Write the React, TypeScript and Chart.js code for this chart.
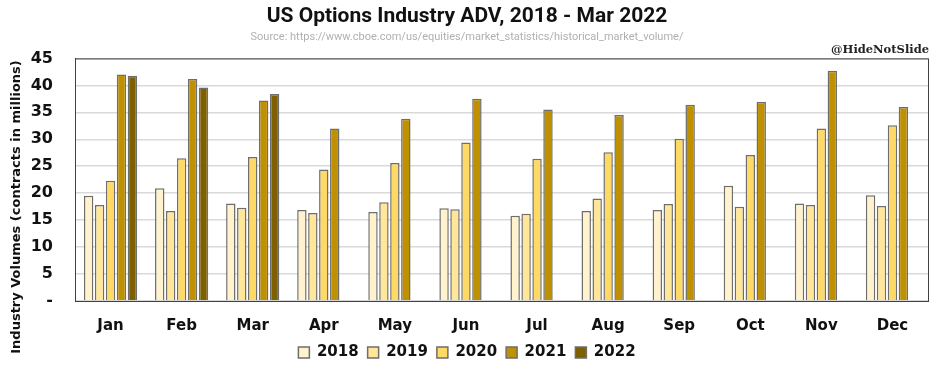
import React, { useEffect, useRef } from "react";
import { Chart, registerables } from "chart.js";

Chart.register(...registerables);

const months = ["Jan", "Feb", "Mar", "Apr", "May", "Jun", "Jul", "Aug", "Sep", "Oct", "Nov", "Dec"];
const years = ["2018", "2019", "2020", "2021", "2022"];
const v2018 = [19.5, 20.9, 18.1, 16.9, 16.5, 17.2, 15.8, 16.7, 16.9, 21.4, 18.1, 19.6];
const v2019 = [17.8, 16.7, 17.3, 16.3, 18.3, 17.0, 16.2, 19.0, 18.0, 17.5, 17.8, 17.6];
const v2020 = [22.3, 26.5, 26.7, 24.4, 25.6, 29.4, 26.4, 27.6, 30.1, 27.1, 32.0, 32.6];
const v2021 = [42.0, 41.2, 37.2, 32.0, 33.8, 37.5, 35.5, 34.5, 36.4, 36.9, 42.7, 36.0];
const v2022 = [41.8, 39.6, 38.4, null, null, null, null, null, null, null, null, null];
const yTicks = [0, 5, 10, 15, 20, 25, 30, 35, 40, 45];
const yTitle = "Industry Volumes (contracts in millions)";

const colors = ["#FFF2CC", "#FFE699", "#FFD966", "#BF9000", "#7F6000"];
const seriesValues = [v2018, v2019, v2020, v2021, v2022];

const framePlugin = {
  id: "frameAndMark",
  afterDraw(chart: any) {
    const { ctx, chartArea } = chart;
    ctx.save();
    ctx.strokeStyle = "#404040";
    ctx.lineWidth = 1;
    ctx.strokeRect(chartArea.left + 0.5, chartArea.top + 0.5, chartArea.right - chartArea.left, chartArea.bottom - chartArea.top);
    ctx.fillStyle = "#222";
    ctx.font = "bold 11.5px 'DejaVu Serif'";
    ctx.textAlign = "right";
    ctx.textBaseline = "bottom";
    ctx.fillText("@HideNotSlide", 929, chartArea.top - 3);
    // y-axis title, placed lower than the plot centre as in the reference
    ctx.translate(17, 207);
    ctx.rotate(-Math.PI / 2);
    ctx.fillStyle = "#111";
    ctx.font = "bold 13px 'DejaVu Sans'";
    ctx.textAlign = "center";
    ctx.textBaseline = "middle";
    ctx.fillText(yTitle, 0, 0);
    ctx.restore();
  },
};

export default function App() {
  const ref = useRef<HTMLCanvasElement>(null);
  useEffect(() => {
    const chart = new Chart(ref.current as HTMLCanvasElement, {
      type: "bar",
      data: {
        labels: months,
        datasets: years.map((y, i) => ({
          label: y,
          data: seriesValues[i],
          backgroundColor: colors[i],
          borderColor: "#6e6e6e",
          borderWidth: 1.5,
          categoryPercentage: 0.77,
          barPercentage: 0.86,
        })),
      },
      options: {
        animation: false,
        responsive: false,
        layout: { padding: { left: 6, right: 8, top: 0, bottom: 0 } },
        plugins: {
          title: {
            display: true,
            text: "US Options Industry ADV, 2018 - Mar 2022",
            color: "#111",
            font: { family: "Roboto", size: 21, weight: "bold" },
            padding: { top: 4, bottom: 1 },
          },
          subtitle: {
            display: true,
            text: "Source: https://www.cboe.com/us/equities/market_statistics/historical_market_volume/",
            color: "#b0b0b0",
            font: { family: "Roboto", size: 11 },
            padding: { top: 0, bottom: 15 },
          },
          legend: {
            position: "bottom",
            labels: {
              boxWidth: 11,
              boxHeight: 11,
              padding: 9,
              color: "#111",
              font: { family: "DejaVu Sans", size: 15, weight: "bold" },
            },
          },
          tooltip: { enabled: false },
        },
        scales: {
          x: {
            grid: { display: false },
            border: { display: true, color: "#404040" },
            afterFit: (axis: any) => {
              axis.height -= 7;
            },
            ticks: {
              color: "#111",
              font: { family: "DejaVu Sans", size: 15, weight: "bold" },
              padding: 8,
            },
          },
          y: {
            min: 0,
            max: 45,
            afterBuildTicks: (axis: any) => {
              axis.ticks = yTicks.map((v) => ({ value: v }));
            },
            afterFit: (axis: any) => {
              axis.width = 69;
            },
            grid: { color: "#d9d9d9", lineWidth: 1.5, drawTicks: false },
            border: { display: true, color: "#404040" },
            title: { display: false },
            ticks: {
              color: "#111",
              font: { family: "DejaVu Sans", size: 16, weight: "bold" },
              padding: 22,
              callback: (v: any) => (Number(v) === 0 ? "-" : String(v)),
            },
          },
        },
      },
      plugins: [framePlugin],
    });
    return () => chart.destroy();
  }, []);
  return (
    <div style={{ position: "absolute", left: 0, top: 0, width: 936, height: 370, background: "#fff" }}>
      <canvas ref={ref} width={936} height={370} style={{ width: 936, height: 370 }} />
    </div>
  );
}
